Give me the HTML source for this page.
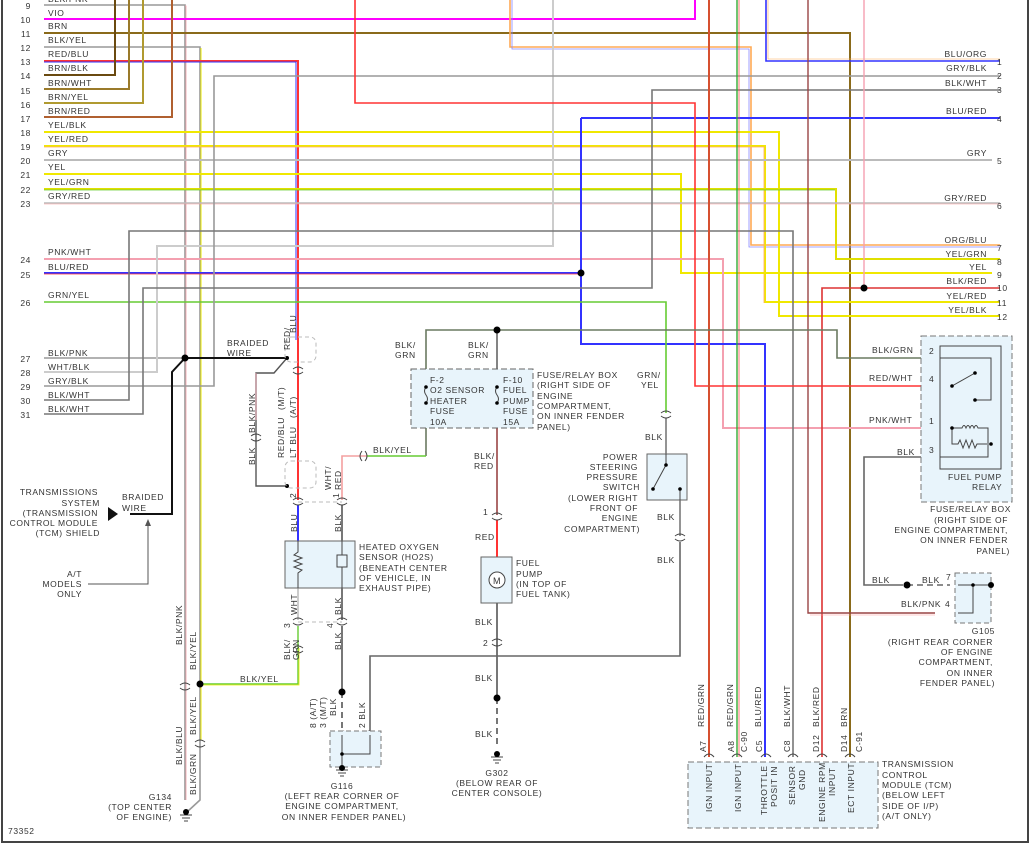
<!DOCTYPE html>
<html><head><meta charset="utf-8"><style>
html,body{margin:0;padding:0;background:#fff}
svg{display:block}
text{font-family:"Liberation Sans",sans-serif;font-size:8.5px;fill:#333;letter-spacing:0.6px}
.n{font-size:8.5px}
</style></head><body>
<svg width="1032" height="845" viewBox="0 0 1032 845" xmlns="http://www.w3.org/2000/svg">
<g fill="none" stroke-width="1.6">
<!-- borders -->
<path d="M2,0V842H1028V0" stroke="#444" stroke-width="2"/>
<!-- left rows -->
<polyline points="44,5 185,5 185,800" stroke="#999"/><polyline points="185,6 186,6 186,800" stroke="#f3a0a8" stroke-width="0.8"/>
<polyline points="44,19 695,19 695,0" stroke="#f0f" stroke-width="2"/>
<polyline points="44,33 850,33 850,757" stroke="#8a6a1a" stroke-width="2"/>
<polyline points="44,47 200,47 200,800 187,812" stroke="#999"/><polyline points="201,48 201,740" stroke="#ee0" stroke-width="1"/>
<polyline points="510,0 510,47 751,47 751,245 1000,245" stroke="#fa5"/><polyline points="512,0 512,49 749,49 749,247 1000,247" stroke="#88f" stroke-width="0.8"/>
<polyline points="44,61 298,61 298,500" stroke="#f33" stroke-width="2"/><polyline points="44,62 296,62 296,340" stroke="#33f" stroke-width="1"/>
<polyline points="44,75 115,75 115,0" stroke="#6a4a10" stroke-width="2"/>
<polyline points="44,89 129,89 129,0" stroke="#9a7a2a" stroke-width="2"/>
<polyline points="44,103 143,103 143,0" stroke="#b09a30" stroke-width="2"/>
<polyline points="44,117 172,117 172,0" stroke="#b06030" stroke-width="2"/>
<polyline points="44,132 779,132 779,316 1000,316" stroke="#f0e800" stroke-width="2"/>
<polyline points="44,146 765,146 765,302 1000,302" stroke="#f0e800" stroke-width="2"/><polyline points="44,147 764,147 764,303" stroke="#fa6" stroke-width="0.8"/>
<polyline points="44,160 992,160" stroke="#bbb" stroke-width="2"/>
<polyline points="44,174 681,174 681,273 992,273" stroke="#f0e800" stroke-width="2"/>
<polyline points="44,189 836,189 836,259 1000,259" stroke="#e0e000" stroke-width="2"/><polyline points="44,190 835,190" stroke="#6c3" stroke-width="0.8"/>
<polyline points="44,203 1000,203" stroke="#bbb" stroke-width="1.6"/><polyline points="44,204 1000,204" stroke="#f99" stroke-width="0.6"/>
<polyline points="44,259 723,259 723,428 935,428" stroke="#f4a0b0" stroke-width="2"/>
<polyline points="44,273 581,273" stroke="#33f" stroke-width="2"/><polyline points="44,274 581,274" stroke="#f33" stroke-width="0.8"/>
<polyline points="581,118 1000,118" stroke="#33f" stroke-width="2"/>
<polyline points="581,118 581,344 765,344 765,757" stroke="#33f" stroke-width="2"/>
<polyline points="44,302 666,302 666,413" stroke="#6c3" stroke-width="1.6"/>
<polyline points="44,358 185,358" stroke="#999"/>
<polyline points="44,372 157,372 157,246 553,246 553,0" stroke="#ccc" stroke-width="2"/>
<polyline points="44,386 214,386 214,76 1000,76" stroke="#999" stroke-width="1.6"/>
<polyline points="44,400 129,400 129,231 793,231 793,757" stroke="#777" stroke-width="1.6"/>
<polyline points="44,414 143,414 143,288 652,288 652,90 1000,90" stroke="#777" stroke-width="1.6"/>
<!-- right side -->
<polyline points="766,0 766,61 1000,61" stroke="#33f" stroke-width="1.6"/><polyline points="768,0 768,59 1000,59" stroke="#fa5" stroke-width="0.6"/>
<polyline points="355,0 355,103 695,103 695,386 935,386" stroke="#f33" stroke-width="1.6"/>
<polyline points="864,0 864,288" stroke="#f4a0b0" stroke-width="1.4"/>
<polyline points="1000,288 822,288 822,757" stroke="#d33" stroke-width="1.6"/>
<polyline points="709,0 709,757" stroke="#d65030" stroke-width="2"/>
<polyline points="737,0 737,757" stroke="#3a3" stroke-width="1.4"/><polyline points="739,0 739,757" stroke="#f55" stroke-width="0.8"/>
<polyline points="808,0 808,613 935,613" stroke="#944" stroke-width="1.4"/><polyline points="810,615 935,615" stroke="#f99" stroke-width="0.6"/>
<!-- BLK/GRN -->
<polyline points="426,456 426,330 837,330 837,358 935,358" stroke="#6a7a60" stroke-width="1.6"/>
<polyline points="367,456 426,456" stroke="#6c3" stroke-width="1.6"/>
<polyline points="367,456 342,456 342,500" stroke="#f4a0a0" stroke-width="1.6"/>
<!-- fuel pump branch -->
<polyline points="497,330 497,428" stroke="#666" stroke-width="1.6"/>
<polyline points="497,428 497,515" stroke="#944" stroke-width="1.6"/>
<polyline points="497,520 497,557" stroke="#f33" stroke-width="2"/>
<polyline points="497,603 497,698" stroke="#555" stroke-width="1.6"/>
<polyline points="497,698 497,748" stroke="#555" stroke-width="1.6" stroke-dasharray="6,4"/>
<!-- power steering -->
<polyline points="666,418 666,454" stroke="#666" stroke-width="1.4"/>
<polyline points="680,500 680,536" stroke="#666" stroke-width="1.4"/>
<polyline points="680,542 680,656 370,656 370,733" stroke="#666" stroke-width="1.6"/>
<!-- relay BLK -->
<polyline points="935,457 864,457 864,585 903,585" stroke="#666" stroke-width="1.6"/>
<polyline points="907,585 950,585" stroke="#666" stroke-width="1.6" stroke-dasharray="6,4"/>
<!-- HO2S wiring -->
<polyline points="298,505 298,541" stroke="#33f" stroke-width="2"/>
<polyline points="342,505 342,541" stroke="#555" stroke-width="1.6"/>
<polyline points="298,588 298,620" stroke="#ccc" stroke-width="2"/>
<polyline points="342,588 342,620" stroke="#555" stroke-width="1.6"/>
<polyline points="298,626 298,684 200,684" stroke="#6c3" stroke-width="1.4"/><polyline points="299,648 299,685 200,685" stroke="#ee0" stroke-width="0.8"/>
<polyline points="342,626 342,692" stroke="#555" stroke-width="1.6"/>
<polyline points="342,692 342,732" stroke="#555" stroke-width="1.6" stroke-dasharray="6,4"/>
<!-- braided shield lines -->
<polyline points="185,358 287,358" stroke="#111" stroke-width="2"/>
<polyline points="185,358 172,372 172,514 130,514" stroke="#111" stroke-width="2"/>
<polyline points="287,358 274,373 256,373 256,486 287,486" stroke="#555" stroke-width="1.4"/>
<polyline points="256,373 256,420" stroke="#f4a0b0" stroke-width="0.8"/>
<polyline points="148,520 148,584 88,584" stroke="#555" stroke-width="1"/>
</g>
<!-- arrows/marks -->
<polygon points="108,507 108,521 118,514" fill="#111"/>
<polygon points="145,526 151,526 148,519" fill="#555"/>
<!-- dots -->
<g fill="#000">
<circle cx="185" cy="358" r="3.5"/><circle cx="581" cy="273" r="3.5"/><circle cx="864" cy="288" r="3.5"/>
<circle cx="497" cy="330" r="3.5"/><circle cx="200" cy="684" r="3.5"/><circle cx="342" cy="692" r="3.5"/>
<circle cx="497" cy="698" r="3.5"/><circle cx="907" cy="585" r="3.5"/>
<circle cx="287" cy="358" r="2"/><circle cx="287" cy="486" r="2"/>
</g>
<!-- shield cylinders -->
<g fill="none" stroke="#bbb" stroke-dasharray="4,3">
<rect x="285" y="337" width="31" height="25" rx="6"/><rect x="285" y="461" width="31" height="27" rx="6"/>
<line x1="298" y1="502" x2="342" y2="502"/><line x1="298" y1="622" x2="342" y2="622"/>
</g>
<!-- connector marks -->
<g fill="none" stroke="#444" stroke-width="1">
<path d="M293,369 q5,-4 10,0 M293,372 q5,4 10,0"/>
<path d="M293,500 q5,-4 10,0 M293,503 q5,4 10,0 M337,500 q5,-4 10,0 M337,503 q5,4 10,0"/>
<path d="M293,620 q5,-4 10,0 M293,623 q5,4 10,0 M337,620 q5,-4 10,0 M337,623 q5,4 10,0"/>
<path d="M293,648 q5,-4 10,0 M293,651 q5,4 10,0"/>
<path d="M251,436 q5,-4 10,0 M251,439 q5,4 10,0"/>
<path d="M362,451 q-4,5 0,10 M365,451 q4,5 0,10"/>
<path d="M492,515 q5,-4 10,0 M492,518 q5,4 10,0 M492,641 q5,-4 10,0 M492,644 q5,4 10,0"/>
<path d="M661,413 q5,-4 10,0 M661,416 q5,4 10,0 M675,536 q5,-4 10,0 M675,539 q5,4 10,0"/>
<path d="M180,685 q5,-4 10,0 M180,688 q5,4 10,0 M195,742 q5,-4 10,0 M195,745 q5,4 10,0"/>
<path d="M337,733 q5,-4 10,0 M365,733 q5,-4 10,0"/>
<path d="M704,757 q5,-6 10,0 M732,757 q5,-6 10,0 M761,757 q5,-6 10,0 M788,757 q5,-6 10,0 M817,757 q5,-6 10,0 M845,757 q5,-6 10,0"/>
</g>
<!-- fuse box -->
<rect x="411" y="369" width="122" height="59" fill="#e8f4fb" stroke="#666" stroke-dasharray="6,3"/>
<g stroke="#444" fill="none"><path d="M426,387 q-3,4 0,8 q3,4 0,8 M497,387 q-3,4 0,8 q3,4 0,8"/></g>
<g fill="#000"><circle cx="426" cy="387" r="1.8"/><circle cx="426" cy="403" r="1.8"/><circle cx="497" cy="387" r="1.8"/><circle cx="497" cy="403" r="1.8"/></g>
<text x="430" y="383">F-2</text><text x="430" y="393">O2 SENSOR</text><text x="430" y="404">HEATER</text><text x="430" y="414">FUSE</text><text x="430" y="425">10A</text>
<text x="503" y="383">F-10</text><text x="503" y="393">FUEL</text><text x="503" y="404">PUMP</text><text x="503" y="414">FUSE</text><text x="503" y="425">15A</text>
<text x="537" y="378">FUSE/RELAY BOX</text><text x="537" y="388">(RIGHT SIDE OF</text><text x="537" y="399">ENGINE</text><text x="537" y="409">COMPARTMENT,</text><text x="537" y="419">ON INNER FENDER</text><text x="537" y="430">PANEL)</text>
<!-- HO2S -->
<rect x="285" y="541" width="70" height="47" fill="#e8f4fb" stroke="#666"/>
<path d="M298,541 V552 l-4,3 8,3 -8,3 8,3 -8,3 8,3 -4,3 V588 M342,541 V555 h-5 v12 h10 v-12 h-5 M342,567 V588" stroke="#444" fill="none"/>
<text x="359" y="550">HEATED OXYGEN</text><text x="359" y="560">SENSOR (HO2S)</text><text x="359" y="571">(BENEATH CENTER</text><text x="359" y="581">OF VEHICLE, IN</text><text x="359" y="591">EXHAUST PIPE)</text>
<!-- fuel pump -->
<rect x="481" y="557" width="31" height="46" fill="#e8f4fb" stroke="#666"/>
<circle cx="497" cy="580" r="8" fill="#fff" stroke="#444"/><text x="493" y="584" style="font-size:9px">M</text>
<text x="516" y="566">FUEL</text><text x="516" y="577">PUMP</text><text x="516" y="587">(IN TOP OF</text><text x="516" y="597">FUEL TANK)</text>
<!-- power steering switch -->
<rect x="647" y="454" width="40" height="46" fill="#e8f4fb" stroke="#666"/>
<path d="M666,454 V465 L653,489 M680,489 V500" stroke="#444" fill="none"/>
<circle cx="666" cy="465" r="1.8"/><circle cx="653" cy="489" r="1.8"/><circle cx="680" cy="489" r="1.8"/>
<g text-anchor="end"><text x="638" y="460">POWER</text><text x="638" y="470">STEERING</text><text x="638" y="480">PRESSURE</text><text x="640" y="490">SWITCH</text><text x="638" y="501">(LOWER RIGHT</text><text x="638" y="511">FRONT OF</text><text x="638" y="521">ENGINE</text><text x="640" y="532">COMPARTMENT)</text></g>
<!-- relay -->
<rect x="921" y="336" width="91" height="166" fill="#e8f4fb" stroke="#777" stroke-dasharray="6,3"/>
<rect x="940" y="346" width="61" height="123" fill="none" stroke="#444"/>
<path d="M952,386 L975,373 M975,400 H991 V358 H940 M952,428 h10 q2,-5 4,0 q2,-5 4,0 q2,-5 4,0 q2,-5 4,0 h10 v29 H940 M952,428 v16 h6 l2,-4 3,8 3,-8 3,8 3,-8 3,8 2,-4 h10" stroke="#444" fill="none"/>
<g fill="#000"><circle cx="952" cy="386" r="1.8"/><circle cx="975" cy="373" r="1.8"/><circle cx="975" cy="400" r="1.8"/><circle cx="952" cy="428" r="1.8"/><circle cx="991" cy="444" r="1.8"/></g>
<text x="929" y="354">2</text><text x="929" y="382">4</text><text x="929" y="424">1</text><text x="929" y="453">3</text>
<text x="948" y="480">FUEL PUMP</text><text x="972" y="490">RELAY</text>
<g text-anchor="end"><text x="1011" y="512">FUSE/RELAY BOX</text><text x="1008" y="523">(RIGHT SIDE OF</text><text x="1008" y="533">ENGINE COMPARTMENT,</text><text x="1008" y="543">ON INNER FENDER</text><text x="1010" y="554">PANEL)</text></g>
<text x="872" y="353">BLK/GRN</text><text x="869" y="381">RED/WHT</text><text x="869" y="423">PNK/WHT</text><text x="897" y="455">BLK</text>
<!-- G105 -->
<rect x="955" y="573" width="36" height="50" fill="#e8f4fb" stroke="#777" stroke-dasharray="5,3"/>
<path d="M958,585 H992 M973,585 V613 H958" stroke="#444" fill="none"/><circle cx="973" cy="585" r="1.8"/><circle cx="991" cy="585" r="3"/>
<text x="872" y="583">BLK</text><text x="922" y="583">BLK</text><text x="946" y="580">7</text><text x="901" y="607">BLK/PNK</text><text x="945" y="607">4</text>
<g text-anchor="end"><text x="995" y="634">G105</text><text x="993" y="645">(RIGHT REAR CORNER</text><text x="993" y="655">OF ENGINE</text><text x="993" y="665">COMPARTMENT,</text><text x="993" y="676">ON INNER</text><text x="995" y="686">FENDER PANEL)</text></g>
<!-- G116 -->
<rect x="330" y="731" width="51" height="36" fill="#e8f4fb" stroke="#777" stroke-dasharray="5,3"/>
<path d="M342,735 V770 M342,754 H370 V735" stroke="#444" fill="none"/><circle cx="342" cy="754" r="1.8"/>
<path d="M336,770 h12 M338,773 h8 M340,776 h4" stroke="#444"/><circle cx="342" cy="768" r="3"/>
<g text-anchor="middle"><text x="342" y="789">G116</text><text x="342" y="799">(LEFT REAR CORNER OF</text><text x="342" y="809">ENGINE COMPARTMENT,</text><text x="344" y="820">ON INNER FENDER PANEL)</text></g>
<!-- G302 -->
<path d="M491,757 h12 M493,760 h8 M495,763 h4" stroke="#444"/><circle cx="497" cy="754" r="3"/>
<g text-anchor="middle"><text x="497" y="776">G302</text><text x="497" y="786">(BELOW REAR OF</text><text x="497" y="796">CENTER CONSOLE)</text></g>
<!-- G134 -->
<path d="M180,815 h12 M182,818 h8 M184,821 h4" stroke="#444"/><circle cx="186" cy="812" r="3"/>
<g text-anchor="end"><text x="172" y="800">G134</text><text x="172" y="810">(TOP CENTER</text><text x="172" y="820">OF ENGINE)</text></g>
<text x="8" y="834">73352</text>
<!-- TCM -->
<rect x="688" y="762" width="190" height="66" fill="#e8f4fb" stroke="#777" stroke-dasharray="6,3"/>
<g>
<text transform="translate(712,812) rotate(-90)">IGN INPUT</text>
<text transform="translate(741,812) rotate(-90)">IGN INPUT</text>
<text transform="translate(767,815) rotate(-90)">THROTTLE</text><text transform="translate(777,807) rotate(-90)">POSIT IN</text>
<text transform="translate(795,805) rotate(-90)">SENSOR</text><text transform="translate(805,790) rotate(-90)">GND</text>
<text transform="translate(825,822) rotate(-90)">ENGINE RPM</text><text transform="translate(835,796) rotate(-90)">INPUT</text>
<text transform="translate(854,813) rotate(-90)">ECT INPUT</text>
<text transform="translate(706,752) rotate(-90)">A7</text><text transform="translate(734,752) rotate(-90)">A8</text>
<text transform="translate(747,752) rotate(-90)">C-90</text><text transform="translate(762,752) rotate(-90)">C5</text>
<text transform="translate(790,752) rotate(-90)">C8</text><text transform="translate(819,752) rotate(-90)">D12</text>
<text transform="translate(847,752) rotate(-90)">D14</text><text transform="translate(862,752) rotate(-90)">C-91</text>
<text transform="translate(704,727) rotate(-90)">RED/GRN</text><text transform="translate(733,727) rotate(-90)">RED/GRN</text>
<text transform="translate(761,727) rotate(-90)">BLU/RED</text><text transform="translate(790,727) rotate(-90)">BLK/WHT</text>
<text transform="translate(819,727) rotate(-90)">BLK/RED</text><text transform="translate(847,727) rotate(-90)">BRN</text>
</g>
<text x="882" y="767">TRANSMISSION</text><text x="882" y="778">CONTROL</text><text x="882" y="788">MODULE (TCM)</text><text x="882" y="798">(BELOW LEFT</text><text x="882" y="809">SIDE OF I/P)</text><text x="882" y="819">(A/T ONLY)</text>
<!-- left row labels -->
<g text-anchor="end">
<text x="31" y="9">9</text><text x="31" y="23">10</text><text x="31" y="37">11</text><text x="31" y="51">12</text><text x="31" y="65">13</text><text x="31" y="79">14</text><text x="31" y="94">15</text><text x="31" y="108">16</text><text x="31" y="122">17</text><text x="31" y="136">18</text><text x="31" y="150">19</text><text x="31" y="164">20</text><text x="31" y="178">21</text><text x="31" y="193">22</text><text x="31" y="207">23</text><text x="31" y="263">24</text><text x="31" y="278">25</text><text x="31" y="306">26</text><text x="31" y="362">27</text><text x="31" y="376">28</text><text x="31" y="390">29</text><text x="31" y="404">30</text><text x="31" y="418">31</text>
</g>
<g>
<text x="48" y="2">BLK/PNK</text><text x="48" y="16">VIO</text><text x="48" y="29">BRN</text><text x="48" y="43">BLK/YEL</text><text x="48" y="57">RED/BLU</text><text x="48" y="71">BRN/BLK</text><text x="48" y="86">BRN/WHT</text><text x="48" y="100">BRN/YEL</text><text x="48" y="114">BRN/RED</text><text x="48" y="128">YEL/BLK</text><text x="48" y="142">YEL/RED</text><text x="48" y="156">GRY</text><text x="48" y="170">YEL</text><text x="48" y="185">YEL/GRN</text><text x="48" y="199">GRY/RED</text><text x="48" y="255">PNK/WHT</text><text x="48" y="270">BLU/RED</text><text x="48" y="298">GRN/YEL</text><text x="48" y="356">BLK/PNK</text><text x="48" y="370">WHT/BLK</text><text x="48" y="384">GRY/BLK</text><text x="48" y="398">BLK/WHT</text><text x="48" y="412">BLK/WHT</text>
</g>
<!-- right row labels -->
<g text-anchor="end">
<text x="987" y="57">BLU/ORG</text><text x="987" y="71">GRY/BLK</text><text x="987" y="86">BLK/WHT</text><text x="987" y="114">BLU/RED</text><text x="987" y="156">GRY</text><text x="987" y="201">GRY/RED</text><text x="987" y="243">ORG/BLU</text><text x="987" y="257">YEL/GRN</text><text x="987" y="270">YEL</text><text x="987" y="284">BLK/RED</text><text x="987" y="299">YEL/RED</text><text x="987" y="313">YEL/BLK</text>
</g>
<g>
<text x="997" y="65">1</text><text x="997" y="79">2</text><text x="997" y="93">3</text><text x="997" y="122">4</text><text x="997" y="164">5</text><text x="997" y="209">6</text><text x="997" y="251">7</text><text x="997" y="265">8</text><text x="997" y="278">9</text><text x="997" y="291">10</text><text x="997" y="306">11</text><text x="997" y="320">12</text>
</g>
<!-- misc labels -->
<text x="227" y="346">BRAIDED</text><text x="227" y="356">WIRE</text>
<text x="122" y="500">BRAIDED</text><text x="122" y="511">WIRE</text>
<g text-anchor="end"><text x="98" y="495">TRANSMISSIONS</text><text x="100" y="506">SYSTEM</text><text x="98" y="516">(TRANSMISSION</text><text x="98" y="526">CONTROL MODULE</text><text x="100" y="536">(TCM) SHIELD</text>
<text x="82" y="577">A/T</text><text x="82" y="587">MODELS</text><text x="82" y="597">ONLY</text></g>
<text x="395" y="348">BLK/</text><text x="395" y="358">GRN</text><text x="468" y="348">BLK/</text><text x="468" y="358">GRN</text>
<text x="373" y="453">BLK/YEL</text>
<text x="474" y="459">BLK/</text><text x="474" y="469">RED</text>
<text x="475" y="540">RED</text><text x="483" y="515">1</text><text x="475" y="625">BLK</text><text x="483" y="646">2</text>
<text x="475" y="681">BLK</text><text x="475" y="737">BLK</text>
<text x="637" y="378">GRN/</text><text x="641" y="388">YEL</text><text x="645" y="440">BLK</text>
<text x="657" y="520">BLK</text><text x="657" y="563">BLK</text>
<text x="240" y="682">BLK/YEL</text>
<g>
<text transform="translate(290,350) rotate(-90)">RED/</text><text transform="translate(296,333) rotate(-90)">BLU</text>
<text transform="translate(255,433) rotate(-90)">BLK/PNK</text><text transform="translate(255,465) rotate(-90)">BLK</text>
<text transform="translate(284,458) rotate(-90)">RED/BLU</text><text transform="translate(284,410) rotate(-90)">(M/T)</text>
<text transform="translate(296,458) rotate(-90)">LT BLU</text><text transform="translate(296,418) rotate(-90)">(A/T)</text>
<text transform="translate(331,490) rotate(-90)">WHT/</text><text transform="translate(341,490) rotate(-90)">RED</text>
<text transform="translate(296,498) rotate(-90)">2</text><text transform="translate(339,498) rotate(-90)">1</text>
<text transform="translate(297,532) rotate(-90)">BLU</text><text transform="translate(341,532) rotate(-90)">BLK</text>
<text transform="translate(297,615) rotate(-90)">WHT</text><text transform="translate(341,615) rotate(-90)">BLK</text>
<text transform="translate(290,628) rotate(-90)">3</text><text transform="translate(333,628) rotate(-90)">4</text>
<text transform="translate(290,660) rotate(-90)">BLK/</text><text transform="translate(299,660) rotate(-90)">GRN</text>
<text transform="translate(341,650) rotate(-90)">BLK</text>
<text transform="translate(316,728) rotate(-90)">8 (A/T)</text><text transform="translate(326,728) rotate(-90)">3 (M/T)</text><text transform="translate(336,716) rotate(-90)">BLK</text>
<text transform="translate(365,728) rotate(-90)">2 BLK</text>
<text transform="translate(182,645) rotate(-90)">BLK/PNK</text><text transform="translate(196,670) rotate(-90)">BLK/YEL</text>
<text transform="translate(182,765) rotate(-90)">BLK/BLU</text><text transform="translate(196,735) rotate(-90)">BLK/YEL</text><text transform="translate(196,795) rotate(-90)">BLK/GRN</text>
</g>
</svg>
</body></html>
